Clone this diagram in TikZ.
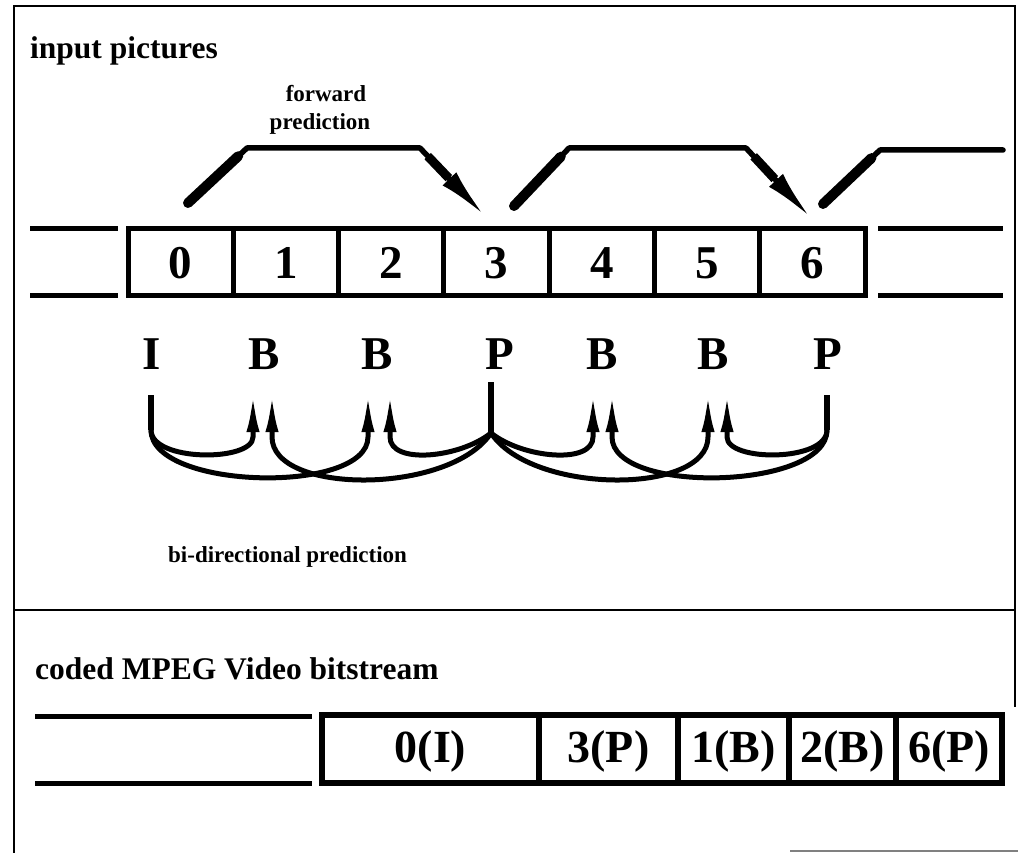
\documentclass[tikz,border=0pt]{standalone}
\usepackage{fontspec}
\setmainfont{Liberation Serif}
\usetikzlibrary{arrows.meta,calc}
\begin{document}
\begin{tikzpicture}[x=1pt,y=-1pt,
  frameline/.style={line width=2.5pt},
  cell/.style={draw,line width=5pt,minimum width=105.3pt,minimum height=67pt,inner sep=0pt,text height=32pt,text depth=0pt,font=\fontsize{47}{50}\selectfont\bfseries},
  stub/.style={line width=5pt},
  ftype/.style={font=\fontsize{47}{50}\selectfont\bfseries,inner sep=0pt,anchor=base},
  fwdpath/.style={line width=5.5pt,line join=round,line cap=round},
  fwdarrow/.style={fwdpath,-{Latex[length=50pt,width=19pt]}},
  fwdthick/.style={line width=10pt,line cap=round},
  fwdthickb/.style={line width=9pt,line cap=butt},
  biarrow/.style={line width=5pt,-{Latex[length=40pt,width=13pt]}},
  stemline/.style={line width=6pt},
  ttl/.style={font=\fontsize{31.5}{36}\selectfont\bfseries,inner sep=0pt,anchor=base west},
  lbl/.style={font=\fontsize{23}{28}\selectfont\bfseries,inner sep=0pt,anchor=base},
  ocell/.style={draw,line width=6pt,minimum height=68pt,inner sep=0pt,text height=34pt,text depth=8pt,font=\fontsize{46}{50}\selectfont\bfseries}
]
\useasboundingbox (0,0) rectangle (1018,853);
\fill[white] (0,0) rectangle (1018,853);

% outer frame
\draw[frameline] (14,853) -- (14,6) -- (1015,6) -- (1015,707);
\draw[frameline] (14,610) -- (1016,610);
\draw[line width=1.2pt,gray] (790,851) -- (1018,851);

% titles
\node[ttl] (t1) at (30,59) {input pictures};
\node[ttl] (t2) at (35,679) {coded MPEG Video bitstream};
\node[lbl] (fw) at (326,102) {forward};
\node[lbl] (pr) at (320,130) {prediction};
\node[lbl,anchor=base west] (bd) at (168,562) {bi-directional prediction};

% top row of pictures
\foreach \i in {0,...,6}{
  \node[cell] (b\i) at ({180.65+105.3*\i},262.5) {\i};
}
\draw[stub] (30,229) -- (118,229);
\draw[stub] (30,296) -- (118,296);
\draw[stub] (878,229) -- (1003,229);
\draw[stub] (878,296) -- (1003,296);

% forward prediction arrows
\coordinate (f1s) at (188,203);
\coordinate (f1a) at (247,148);
\coordinate (f1b) at (420,148);
\coordinate (f1t) at (484,215);
\coordinate (f2s) at (514,206);
\coordinate (f2a) at (569,148);
\coordinate (f2b) at (746,148);
\coordinate (f2t) at (810,217);
\coordinate (f3s) at (823,204);
\coordinate (f3a) at (880,150);
\coordinate (f3e) at (1003,150);
\draw[fwdarrow] (f1s) -- (f1a) -- (f1b) -- (f1t);
\draw[fwdthick] (f1s) -- ($(f1s)!0.85!(f1a)$);
\draw[fwdthickb] ($(f1b)!0.12!(f1t)$) -- ($(f1b)!0.45!(f1t)$);
\draw[fwdarrow] (f2s) -- (f2a) -- (f2b) -- (f2t);
\draw[fwdthick] (f2s) -- ($(f2s)!0.85!(f2a)$);
\draw[fwdthickb] ($(f2b)!0.12!(f2t)$) -- ($(f2b)!0.45!(f2t)$);
\draw[fwdpath] (f3s) -- (f3a) -- (f3e);
\draw[fwdthick] (f3s) -- ($(f3s)!0.85!(f3a)$);

% picture types
\node[ftype] (lI) at (152,369) {I};
\node[ftype] (lB1) at (264,369) {B};
\node[ftype] (lB2) at (377,369) {B};
\node[ftype] (lP1) at (500,369) {P};
\node[ftype] (lB3) at (602,369) {B};
\node[ftype] (lB4) at (713,369) {B};
\node[ftype] (lP2) at (828,369) {P};

% stems and junctions
\coordinate (sI) at (151,395);
\coordinate (jI) at (151,430);
\coordinate (sP1) at (491,382);
\coordinate (jP1) at (491,433);
\coordinate (sP2) at (827,395);
\coordinate (jP2) at (827,430);
\draw[stemline] (sI) -- (jI);
\draw[stemline] (sP1) -- (jP1);
\draw[stemline] (sP2) -- (jP2);

% arrow tips
\coordinate (tB1l) at (253,392);
\coordinate (tB1r) at (272,392);
\coordinate (tB2l) at (368,392);
\coordinate (tB2r) at (390,392);
\coordinate (tB3l) at (593,392);
\coordinate (tB3r) at (612,392);
\coordinate (tB4l) at (708,392);
\coordinate (tB4r) at (727,392);

% bi-directional arcs
\draw[biarrow] (jI) .. controls (151,462) and (253,462) .. (253,437) -- (tB1l);
\draw[biarrow] (jI) .. controls (151,490) and (368,495) .. (368,437) -- (tB2l);
\draw[biarrow] (jP1) .. controls (460,458) and (390,465) .. (390,437) -- (tB2r);
\draw[biarrow] (jP1) .. controls (450,495) and (272,495) .. (272,437) -- (tB1r);
\draw[biarrow] (jP1) .. controls (522,458) and (593,465) .. (593,437) -- (tB3l);
\draw[biarrow] (jP1) .. controls (532,495) and (708,495) .. (708,437) -- (tB4l);
\draw[biarrow] (jP2) .. controls (827,462) and (727,462) .. (727,437) -- (tB4r);
\draw[biarrow] (jP2) .. controls (827,490) and (612,495) .. (612,437) -- (tB3r);

% coded bitstream
\node[ocell,minimum width=217pt] (c0) at (430.5,749) {0(I)};
\node[ocell,minimum width=139pt] (c3) at (608.5,749) {3(P)};
\node[ocell,minimum width=111pt] (c1) at (733.5,749) {1(B)};
\node[ocell,minimum width=107pt] (c2) at (842.5,749) {2(B)};
\node[ocell,minimum width=106pt] (c6) at (949,749) {6(P)};
\draw[stub] (35,716) -- (312,716);
\draw[stub] (35,783) -- (312,783);
\end{tikzpicture}
\end{document}
